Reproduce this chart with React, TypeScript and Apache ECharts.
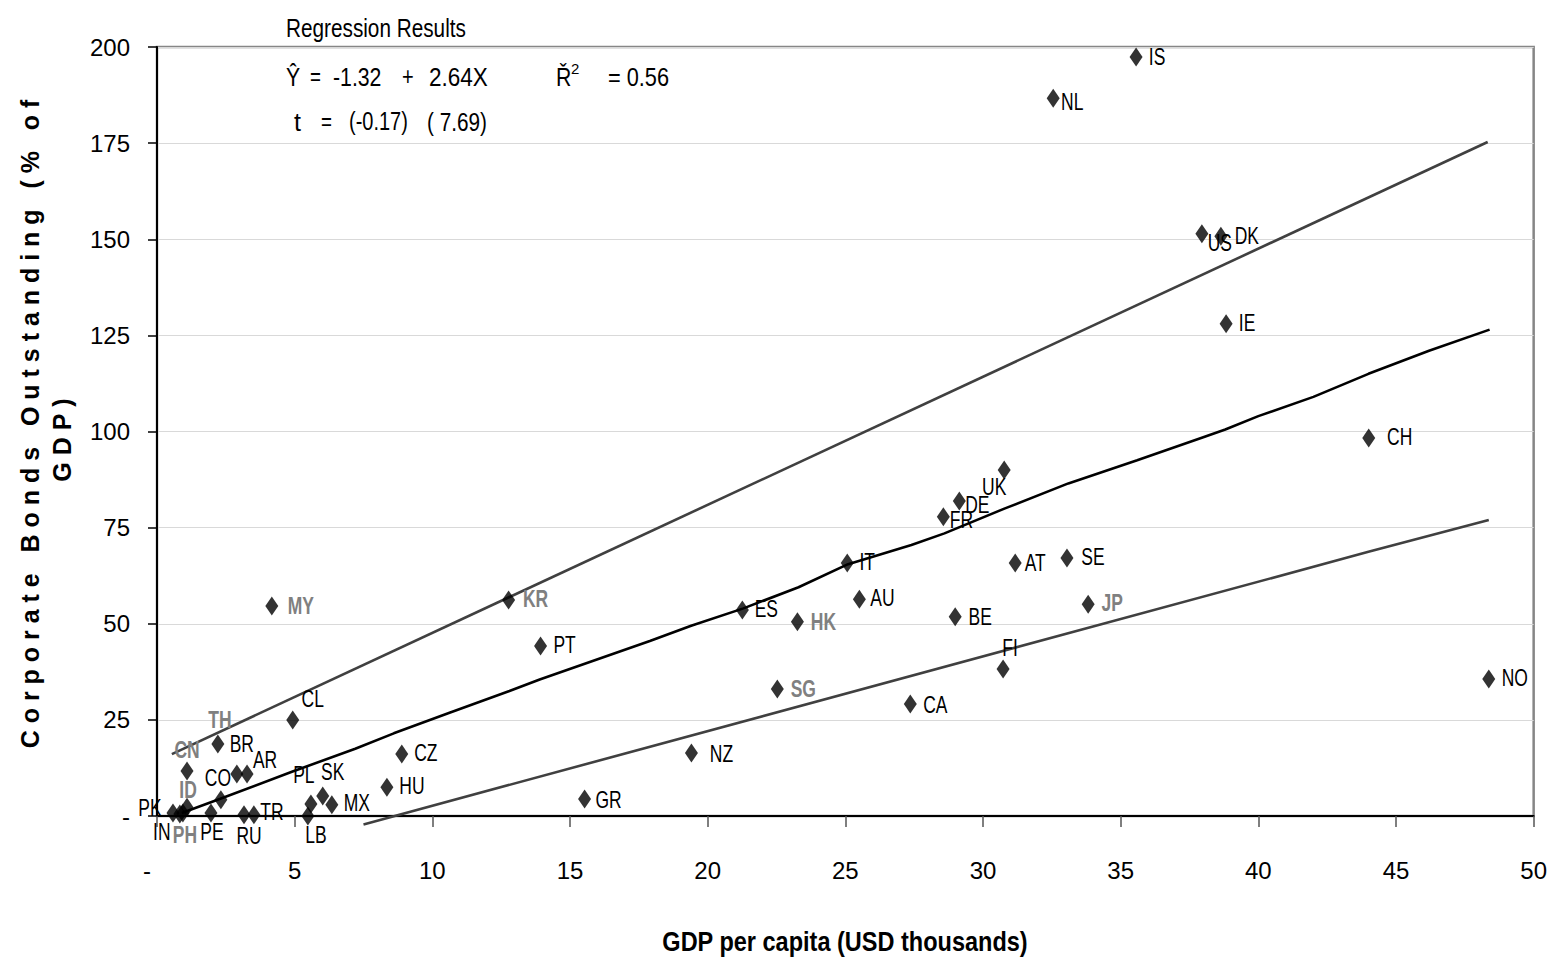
import React, { useEffect, useRef } from "react";
import * as echarts from "echarts";

// ---- data ----
const countries = ["PK","IN","PH","ID","CN","TH","BR","AR","CO","PE","RU","TR","CL","PL","LB","SK","MX","CZ","HU","MY","KR","PT","GR","NZ","ES","HK","SG","IT","AU","CA","FR","BE","DE","UK","FI","AT","SE","JP","NL","IS","US","DK","IE","CH","NO"];
const gdpPerCapita = [0.58,0.83,0.94,1.09,1.09,2.21,2.90,3.27,2.32,1.96,3.16,3.52,4.93,5.59,5.48,6.02,6.35,8.89,8.35,4.17,12.77,13.93,15.53,19.41,21.26,23.26,22.53,25.07,25.51,27.36,28.56,28.99,29.14,30.77,30.73,31.17,33.05,33.82,32.55,35.56,37.95,38.64,38.83,44.01,48.37];
const corpBonds = [0.8,0.5,0.8,2.3,11.7,18.7,10.9,10.9,4.2,0.8,0.3,0.3,25.0,3.1,0.0,5.2,2.9,16.1,7.5,54.6,56.2,44.2,4.4,16.4,53.6,50.5,33.0,65.8,56.4,29.1,77.8,51.8,81.9,90.0,38.2,65.8,67.1,55.1,186.7,197.4,151.4,150.8,128.0,98.3,35.6];
const highlighted = ["MY","KR","HK","SG","JP","TH","CN","ID","PH"];

// fitted line
const fitX = [0.9,2.3,4.9,7.2,8.6,10.6,12.8,13.9,17.9,19.4,21.3,23.3,25.1,27.4,28.6,30.8,33.1,35.6,38.0,38.8,40.0,42.0,44.0,46.2,48.4];
const fitY = [0.8,4.5,11.5,17.5,21.5,26.8,32.5,35.5,45.5,49.5,54.0,59.5,65.5,70.5,73.5,80.0,86.5,92.5,98.5,100.5,104.0,109.0,115.0,121.0,126.5];
// upper / lower bands (endpoints)
const upperX = [0.54,48.33];
const upperY = [16.1,175.3];
const lowerX = [7.5,44.0,48.37];
const lowerY = [-2.2,68.7,77.0];

const xTicks = { min: 0, max: 50, step: 5 };
const yTicks = { min: 0, max: 200, step: 25 };

// label placement (pixel offsets of label centre from marker centre)
const labelOffsets: Record<string, [number, number]> = {
  PK: [-23, -5], IN: [-18, 18], PH: [2, 22], ID: [1, -17], CN: [0, -21], TH: [2, -24],
  BR: [5, -30], AR: [18, -14], CO: [-3, -22], PE: [1, 19], RU: [5, 21], TR: [18, -3],
  CL: [20, -21], PL: [-7, -29], LB: [8, 19], SK: [10, -24], MX: [25, -2], CZ: [24, -1],
  HU: [25, -1], MY: [29, 0], KR: [27, -1], PT: [24, -1], GR: [24, 1], NZ: [30, 1],
  ES: [24, -1], HK: [26, 0], SG: [26, 0], IT: [20, -1], AU: [23, -1], CA: [25, 1],
  FR: [18, 3], BE: [25, 0], DE: [18, 4], UK: [-10, 17], FI: [7, -21], AT: [20, 0],
  SE: [26, -1], JP: [24, -1], NL: [19, 4], IS: [21, 0], US: [18, 9], DK: [26, 0],
  IE: [21, -1], CH: [31, -1], NO: [26, -1],
};

const SANS = '"Liberation Sans", Arial, sans-serif';

function spaced(s: string): string {
  return s.split(" ").map((w) => w.split("").join("\u00a0")).join("\u00a0\u00a0\u00a0");
}

function txt(text: string, x: number, y: number, size: number, extra: any = {}) {
  return {
    type: "text",
    x,
    y,
    scaleX: extra.scaleX ?? 1,
    style: {
      text,
      font: `${extra.bold ? "bold " : ""}${size}px ${SANS}`,
      fill: "#000",
      align: extra.align ?? "left",
      verticalAlign: "middle",
    },
  };
}

export default function App() {
  const ref = useRef<HTMLDivElement>(null);
  useEffect(() => {
    if (!ref.current) return;
    const chart = echarts.init(ref.current, undefined, { renderer: "svg" });

    const scatterData = countries.map((c, i) => ({ name: c, value: [gdpPerCapita[i], corpBonds[i]] }));
    const labelData = countries.map((c, i) => [gdpPerCapita[i], corpBonds[i], i]);

    const option: any = {
      animation: false,
      backgroundColor: "#ffffff",
      grid: {
        left: 157,
        right: 15,
        top: 47,
        bottom: 150,
        show: true,
        borderColor: "#868686",
        borderWidth: 2.5,
        backgroundColor: "transparent",
      },
      xAxis: {
        type: "value",
        min: xTicks.min,
        max: xTicks.max,
        interval: xTicks.step,
        axisLine: { show: true, onZero: false, lineStyle: { color: "#000", width: 2 } },
        axisTick: { show: true, inside: false, length: 11, lineStyle: { color: "#555", width: 1.5 } },
        splitLine: { show: false },
        axisLabel: {
          margin: 42,
          fontSize: 24,
          fontFamily: SANS,
          color: "#000",
          formatter: (v: number) => (v === 0 ? "{d|-}" : String(v)),
          rich: { d: { padding: [0, 20, 0, 0], fontSize: 24, fontFamily: SANS, color: "#000" } },
        },
      },
      yAxis: {
        type: "value",
        min: yTicks.min,
        max: yTicks.max,
        interval: yTicks.step,
        axisLine: { show: true, lineStyle: { color: "#000", width: 2 } },
        axisTick: { show: true, inside: false, length: 9, lineStyle: { color: "#000", width: 1.5 } },
        splitLine: { show: true, lineStyle: { color: "#d9d9d9", width: 1 } },
        axisLabel: {
          margin: 27,
          fontSize: 24,
          fontFamily: SANS,
          color: "#000",
          formatter: (v: number) => (v === 0 ? "-" : String(v)),
        },
      },
      series: [
        {
          type: "line",
          data: upperX.map((x, i) => [x, upperY[i]]),
          showSymbol: false,
          silent: true,
          clip: false,
          lineStyle: { color: "#404040", width: 2.6 },
          z: 2,
        },
        {
          type: "line",
          data: lowerX.map((x, i) => [x, lowerY[i]]),
          showSymbol: false,
          silent: true,
          clip: false,
          lineStyle: { color: "#404040", width: 2.6 },
          z: 2,
        },
        {
          type: "line",
          data: fitX.map((x, i) => [x, fitY[i]]),
          showSymbol: false,
          silent: true,
          clip: false,
          lineStyle: { color: "#000", width: 2.6 },
          z: 3,
        },
        {
          type: "scatter",
          data: scatterData,
          symbol: "diamond",
          symbolSize: [13, 19],
          itemStyle: { color: "#000" },
          clip: false,
          z: 5,
        },
        {
          type: "custom",
          data: labelData,
          clip: false,
          silent: true,
          z: 6,
          renderItem: (_params: any, api: any) => {
            const idx = api.value(2);
            const c = countries[idx];
            const p = api.coord([api.value(0), api.value(1)]);
            const off = labelOffsets[c] || [22, 0];
            const hl = highlighted.includes(c);
            return {
              type: "text",
              x: p[0] + off[0],
              y: p[1] + off[1],
              scaleX: 0.76,
              style: {
                text: c,
                font: `${hl ? "bold " : ""}23px ${SANS}`,
                fill: hl ? "#808080" : "#000",
                align: "center",
                verticalAlign: "middle",
              },
            };
          },
        },
      ],
      graphic: [
        txt("Regression Results", 286, 28, 25, { scaleX: 0.83 }),
        txt("Ŷ", 286, 77, 25, { scaleX: 0.85 }),
        txt("=", 310, 77, 25, { scaleX: 0.75 }),
        txt("-1.32", 333, 77, 25, { scaleX: 0.85 }),
        txt("+", 402, 77, 25, { scaleX: 0.8 }),
        txt("2.64X", 429, 77, 25, { scaleX: 0.9 }),
        txt("Ř", 556, 77, 25, { scaleX: 0.85 }),
        txt("2", 571, 68, 15),
        txt("= 0.56", 608, 77, 25, { scaleX: 0.87 }),
        txt("t", 294, 122, 25),
        txt("=", 321, 122, 25, { scaleX: 0.75 }),
        txt("(-0.17)", 349, 122, 25, { scaleX: 0.8 }),
        txt("( 7.69)", 427, 122, 25, { scaleX: 0.83 }),
        {
          type: "text",
          x: 30,
          y: 424,
          rotation: Math.PI / 2,
          style: {
            text: spaced("Corporate Bonds Outstanding (% of"),
            font: `bold 25px ${SANS}`,
            fill: "#000",
            align: "center",
            verticalAlign: "middle",
          },
        },
        {
          type: "text",
          x: 62,
          y: 440,
          rotation: Math.PI / 2,
          style: {
            text: spaced("GDP)"),
            font: `bold 25px ${SANS}`,
            fill: "#000",
            align: "center",
            verticalAlign: "middle",
          },
        },
        txt("GDP per capita (USD thousands)", 845, 941, 28, { bold: true, align: "center", scaleX: 0.84 }),
      ],
    };
    chart.setOption(option);
    return () => chart.dispose();
  }, []);
  return (
    <div
      ref={ref}
      style={{ position: "absolute", left: 0, top: 0, width: 1550, height: 966, background: "#fff" }}
    />
  );
}
